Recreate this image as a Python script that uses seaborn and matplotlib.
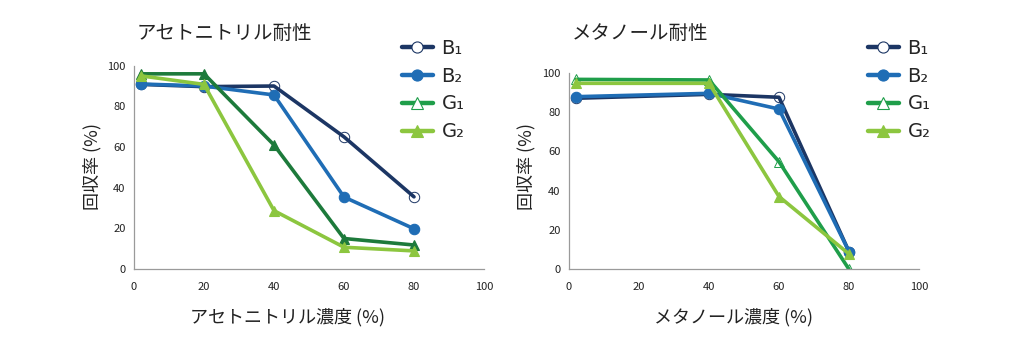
import matplotlib
matplotlib.use("Agg")
import matplotlib.pyplot as plt
import seaborn as sns
import pandas as pd

sns.set_theme(style="white")
plt.rcParams["font.family"] = ["Noto Sans CJK JP", "DejaVu Sans"]

# Concentration (%) and recovery (%) for each sample
conc_acn = [2, 20, 40, 60, 80]
acn_b1 = [90.8, 89.7, 90.0, 65.0, 35.5]
acn_b2 = [91.0, 90.0, 85.6, 35.4, 19.8]
acn_g1 = [96.0, 96.0, 61.0, 15.0, 11.8]
acn_g2 = [95.0, 90.8, 28.7, 10.7, 8.9]

conc_meoh = [2, 40, 60, 80]
meoh_b1 = [87.0, 89.0, 87.5, 9.0]
meoh_b2 = [87.8, 89.5, 81.5, 9.0]
meoh_g1 = [96.6, 96.3, 54.7, 0.0]
meoh_g2 = [94.6, 94.6, 37.0, 7.8]

series_names = ["B₁", "B₂", "G₁", "G₂"]
titles = ["アセトニトリル耐性", "メタノール耐性"]
xlabels = ["アセトニトリル濃度 (%)", "メタノール濃度 (%)"]
ylabel = "回収率 (%)"
ticks = [0, 20, 40, 60, 80, 100]

styles = {
    "B₁": dict(color="#1c3664", marker="o", hollow=True),
    "B₂": dict(color="#1f6db5", marker="o", hollow=False),
    "G₁": dict(color="#1f9e4a", marker="^", hollow=True),
    "G₂": dict(color="#8cc63f", marker="^", hollow=False),
}
g1_left = "#1d7a3b"

fig = plt.figure(figsize=(10.19, 3.45), dpi=100)
W, H = 1019, 345
ax_boxes = [(134, 65.7, 484, 269), (569, 72.7, 919, 269.3)]

datasets = [
    (conc_acn, [acn_b1, acn_b2, acn_g1, acn_g2]),
    (conc_meoh, [meoh_b1, meoh_b2, meoh_g1, meoh_g2]),
]

for i, ((x0, y0, x1, y1), (conc, vals)) in enumerate(zip(ax_boxes, datasets)):
    ax = fig.add_axes([x0 / W, 1 - y1 / H, (x1 - x0) / W, (y1 - y0) / H])
    legend_handles = []
    for name, v in zip(series_names, vals):
        st = styles[name]
        col = st["color"]
        hollow = st["hollow"]
        if i == 0 and name == "G₁":
            col = g1_left
            hollow = False
        df = pd.DataFrame({"conc": conc, "rec": v})
        kw = dict(marker=st["marker"], markersize=7.5, markeredgewidth=0.8,
                  markeredgecolor=col if not hollow else st["color"],
                  linewidth=2.6, color=col)
        if hollow:
            kw["markerfacecolor"] = "none"
            kw["markeredgewidth"] = 0.7
        sns.lineplot(data=df, x="conc", y="rec", ax=ax, **kw)
        # legend key drawn with the series' nominal style
        lh, = ax.plot([], [], color=st["color"], linewidth=3.2,
                      marker=st["marker"], markersize=8,
                      markerfacecolor="white" if st["hollow"] else st["color"],
                      markeredgecolor=st["color"], markeredgewidth=0.8)
        legend_handles.append(lh)
    ax.set_xlim(0, 100)
    ax.set_ylim(0, 100)
    ax.set_xticks(ticks)
    ax.set_yticks(ticks)
    ax.set_xlabel("")
    ax.set_ylabel("")
    for s in ["top", "right"]:
        ax.spines[s].set_visible(False)
    for s in ["left", "bottom"]:
        ax.spines[s].set_color("#9a9a9a")
        ax.spines[s].set_linewidth(0.9)
    ax.tick_params(axis="both", direction="in", length=3, width=0.8,
                   color="#9a9a9a", labelsize=8, labelcolor="#222222", pad=6)
    ax.tick_params(axis="x", pad=9)
    lx = (388 if i == 0 else 854) / W
    ax.legend(legend_handles, series_names, loc="upper left",
              bbox_to_anchor=(lx, 1 - 25 / H), bbox_transform=fig.transFigure,
              frameon=False, handlelength=1.6, handletextpad=0.45,
              labelspacing=0.46, borderpad=0.2,
              prop={"family": "DejaVu Sans", "size": 14})

    fig.text((x0 + 3) / W, 1 - 33 / H, titles[i], fontsize=14, color="#222222",
             ha="left", va="center")
    xc = 287 if i == 0 else 733
    fig.text(xc / W, 1 - 317 / H, xlabels[i], fontsize=13, color="#222222",
             ha="center", va="center")
    yx = 92 if i == 0 else 526
    fig.text(yx / W, 1 - 167 / H, ylabel, fontsize=13, color="#222222",
             ha="center", va="center", rotation=90)

fig.savefig("out.png", dpi=100)
